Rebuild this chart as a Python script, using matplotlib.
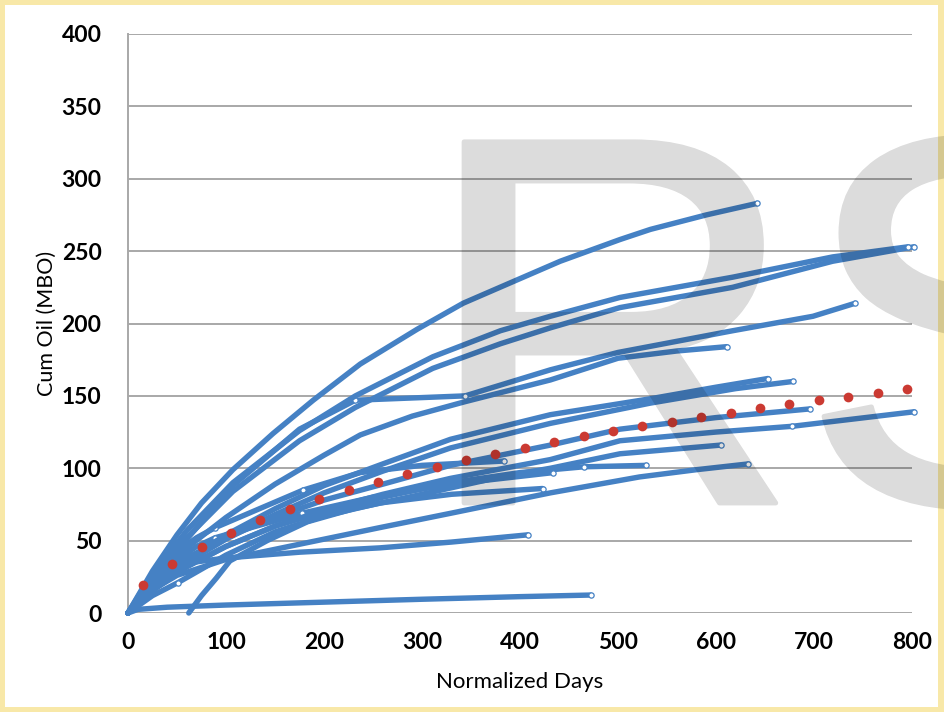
import matplotlib
matplotlib.use("Agg")
import matplotlib.pyplot as plt
import matplotlib.patheffects as pe
from matplotlib.patches import Rectangle

# ---- data: cumulative oil (MBO) vs normalized days for each well ----
well_a_days = [0, 25, 50, 75, 107, 148, 189, 237, 295, 342, 400, 441, 502, 533, 590, 642]
well_a_cum = [0, 29, 54, 76, 99, 124, 147, 172, 196, 214, 231, 243, 258, 265, 275, 283]

well_b1_days = [0, 30, 60, 107, 175, 232, 311, 380, 431, 502, 617, 719, 796]
well_b1_cum = [0, 31, 57, 90, 126, 150, 177, 195, 205, 218, 232, 246, 253]

well_b2_days = [0, 30, 60, 107, 175, 232, 311, 380, 431, 502, 617, 719, 802]
well_b2_cum = [0, 28, 52, 84, 119, 142, 169, 186, 197, 211, 225, 243, 253]

well_c_days = [0, 30, 60, 107, 175, 232, 344, 431, 500, 617, 699, 742]
well_c_cum = [0, 27, 51, 88, 127, 147, 150, 168, 180, 195, 205, 214]

well_d_days = [0, 30, 60, 100, 150, 200, 237, 290, 344, 431, 500, 560, 611]
well_d_cum = [0, 25, 45, 66, 89, 109, 123, 136, 146, 161, 176, 181, 184]

well_e_days = [0, 30, 60, 100, 150, 200, 260, 329, 431, 533, 600, 653]
well_e_cum = [0, 21, 37, 54, 72, 88, 103, 120, 137, 148, 156, 162]

well_f_days = [0, 30, 60, 100, 150, 200, 260, 329, 431, 533, 620, 679]
well_f_cum = [0, 20, 35, 51, 68, 83, 98, 114, 131, 145, 155, 160]

well_g_days = [0, 30, 60, 100, 150, 200, 260, 329, 431, 502, 600, 696]
well_g_cum = [0, 22, 38, 52, 66, 78, 89, 102, 116, 127, 135, 141]

well_h_days = [0, 30, 60, 100, 150, 200, 260, 329, 431, 502, 600, 678, 802]
well_h_cum = [0, 18, 32, 46, 60, 71, 82, 93, 106, 119, 125, 129, 139]

well_j_days = [62, 75, 90, 104, 142, 183, 230, 300, 380, 431, 502, 605]
well_j_cum = [0, 12, 24, 36, 50, 63, 72, 82, 94, 100, 110, 116]

well_k_days = [0, 30, 60, 100, 150, 200, 260, 329, 400, 465, 529]
well_k_cum = [0, 18, 32, 46, 60, 70, 80, 90, 97, 101, 102]

well_l_days = [0, 20, 50, 100, 150, 200, 257, 330, 431, 522, 580, 633]
well_l_cum = [0, 14, 26, 37, 44, 51, 59, 69, 83, 94, 99, 103]

well_m_days = [0, 25, 51, 100, 150, 200, 257, 330, 423]
well_m_cum = [0, 12, 21, 40, 56, 67, 76, 82, 86]

well_n_days = [0, 15, 35, 55, 100, 175, 257, 330, 408]
well_n_cum = [0, 15, 27, 34, 38, 42, 45, 49, 54]

well_o_days = [0, 10, 40, 100, 200, 300, 400, 472]
well_o_cum = [0, 2.5, 4, 5.5, 7.5, 9.5, 11.3, 12.4]

well_q_days = [0, 20, 45, 70, 89, 179, 237, 300, 384]
well_q_cum = [0, 22, 40, 52, 59, 85, 97, 102, 105]

well_r_days = [0, 20, 45, 70, 89, 178, 250, 330, 434]
well_r_cum = [0, 19, 34, 46, 52, 69, 80, 89, 97]

# average type curve
avg_days = [15, 45, 75, 105, 135, 165, 195, 225, 255, 285, 315, 345, 375, 405,
            435, 465, 495, 525, 555, 585, 615, 645, 675, 705, 735, 765, 795]
avg_cum = [19.3, 33.8, 45.6, 55.3, 64.2, 71.8, 78.8, 85.0, 90.5, 96.0, 101.0,
           105.7, 110.0, 114.0, 118.0, 122.0, 125.7, 129.0, 132.0, 135.4, 138.2,
           141.6, 144.4, 147.2, 149.2, 152.0, 154.7]

x_ticks = [0, 100, 200, 300, 400, 500, 600, 700, 800]
y_ticks = [0, 50, 100, 150, 200, 250, 300, 350, 400]

# (days, cum, indices of visible point markers: gaps and last point)
wells = [
    (well_o_days, well_o_cum, [-1]),
    (well_n_days, well_n_cum, [-1]),
    (well_m_days, well_m_cum, [2, -1]),
    (well_l_days, well_l_cum, [-1]),
    (well_k_days, well_k_cum, [9, -1]),
    (well_j_days, well_j_cum, [-1]),
    (well_r_days, well_r_cum, [4, 5, -1]),
    (well_q_days, well_q_cum, [4, 5, -1]),
    (well_h_days, well_h_cum, [11, -1]),
    (well_g_days, well_g_cum, [-1]),
    (well_f_days, well_f_cum, [-1]),
    (well_e_days, well_e_cum, [-1]),
    (well_d_days, well_d_cum, [-1]),
    (well_c_days, well_c_cum, [5, 6, -1]),
    (well_b2_days, well_b2_cum, [-1]),
    (well_b1_days, well_b1_cum, [-1]),
    (well_a_days, well_a_cum, [-1]),
]

BLUE = "#4581C4"
RED = "#CB3A32"
GRID = "#A8A8A8"

W, H = 945, 712
fig = plt.figure(figsize=(W / 100, H / 100), dpi=100)
fig.patch.set_facecolor("#F8E8A8")
# white slide panel
fig.patches.append(Rectangle((5 / W, 5 / H), 933 / W, 702 / H,
                             transform=fig.transFigure, facecolor="white",
                             edgecolor="none", zorder=-5))

ax = fig.add_axes([128 / W, (H - 613) / H, 784 / W, 579 / H], zorder=2)
ax.set_facecolor("none")

for days, cum, marks in wells:
    n = len(days)
    idx = [(i if i >= 0 else n + i) for i in marks]
    ax.plot(days, cum, color=BLUE, lw=3.9, solid_capstyle="round",
            solid_joinstyle="round", marker="o", markevery=idx,
            markersize=3.8, markerfacecolor="white", markeredgecolor=BLUE,
            markeredgewidth=0.9, clip_on=False, zorder=3)

ax.plot(avg_days, avg_cum, linestyle="none", marker="o", markersize=7,
        color=RED, markeredgewidth=0, zorder=5, clip_on=False)

ax.set_xlim(0, 800)
ax.set_ylim(0, 400)
ax.set_xticks(x_ticks)
ax.set_yticks(y_ticks)
ax.yaxis.grid(True, color=GRID, lw=1.4)
ax.set_axisbelow(True)
for side in ["top", "right", "bottom"]:
    ax.spines[side].set_visible(False)
ax.spines["left"].set_color(GRID)
ax.spines["left"].set_linewidth(1.4)
ax.tick_params(axis="both", length=0, labelsize=16.5, colors="black")
ax.tick_params(axis="y", pad=19)
ax.tick_params(axis="x", pad=14)
for lab in ax.get_xticklabels() + ax.get_yticklabels():
    lab.set_family("Lato")
    lab.set_fontweight("bold")

ax.set_xlabel("Normalized Days", family="Lato", fontsize=16, labelpad=13)
ax.set_ylabel("Cum Oil (MBO)", family="Lato", fontsize=15.5, labelpad=3)


def _fade(img, dpi):
    # flatten the watermark into a single uniform translucent layer
    out = img.copy()
    out[..., :3] = 0.0
    out[..., 3] = img[..., 3] * 0.14
    return out, 0, 0


# watermark letters
wm = fig.text(421 / W, (H - 503) / H, "RS", family="Liberation Sans",
              fontsize=378, color="black", ha="left", va="baseline",
              zorder=10,
              path_effects=[pe.withStroke(linewidth=3.5, foreground="black")])
wm.set_agg_filter(_fade)

fig.savefig("out.png", dpi=100, facecolor=fig.get_facecolor())
